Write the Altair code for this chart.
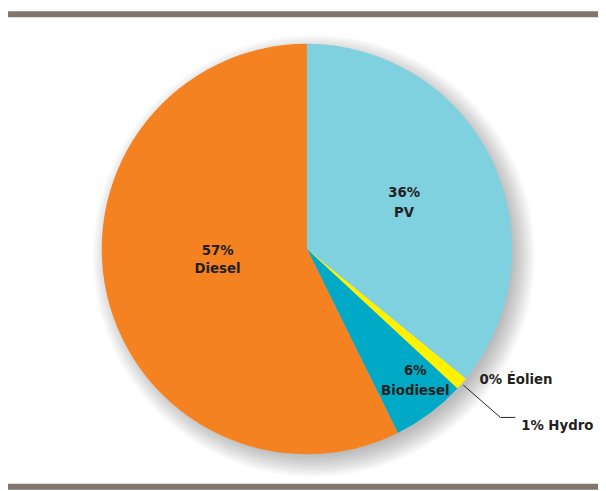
import math
import altair as alt
import pandas as pd

# ---- data ----
categories = ["PV", "Éolien", "Hydro", "Biodiesel", "Diesel"]
shares = [35.9, 0.0, 1.0, 5.8, 57.3]
pct_labels = ["36%", "0%", "1%", "6%", "57%"]
colors = ["#7fd1df", "#8dc63f", "#fff200", "#00aac6", "#f58220"]

df = pd.DataFrame({
    "cat": categories,
    "share": shares,
    "pct": pct_labels,
    "ord": list(range(len(categories))),
})

PADL = 8
W, H = 590, 482
CX, CY = W / 2, H / 2
R = 208
FONT = "'Liberation Sans Narrow', 'DejaVu Sans Condensed', sans-serif"
TXT = "#231f20"
BAR = "#7f756b"

base = alt.Chart(df).encode(
    theta=alt.Theta("share:Q", stack=True),
    order=alt.Order("ord:Q"),
)

# soft shadow under the pie (offset right/down)
one = pd.DataFrame({"k": [0]})
shadow_layers = []
for r in range(224, 200, -2):
    shadow_layers.append(
        alt.Chart(one).mark_point(shape="circle", filled=True, size=(2 * r) ** 2,
                                  color="#000000", opacity=0.025, strokeWidth=0)
        .encode(x=alt.value(CX + 7), y=alt.value(CY + 7))
    )

pie = base.mark_arc(outerRadius=R).encode(
    color=alt.Color("cat:N", scale=alt.Scale(domain=categories, range=colors),
                    legend=None)
)


def label(cat, expr, radius, dx=0, dy=0, align="center", lh=20):
    return base.transform_calculate(
        t=f"datum.cat == '{cat}' ? {expr} : ''"
    ).mark_text(
        radius=radius, dx=dx, dy=dy, align=align, baseline="middle",
        font=FONT, fontSize=15, fontWeight="bold", color=TXT,
        lineBreak="\n", lineHeight=lh,
    ).encode(text="t:N")


two_line = "datum.pct + '\\n' + datum.cat"
one_line = "datum.pct + ' ' + datum.cat"

lab_pv = label("PV", two_line, 109, dx=0, dy=-11)
lab_diesel = label("Diesel", two_line, 92, dx=-1, dy=-20, lh=18)
lab_bio = label("Biodiesel", two_line, 172, dx=7, dy=-15)
lab_eol = label("Éolien", one_line, 218, dx=6, dy=-6, align="left")
lab_hyd = label("Hydro", one_line, 260, dx=21, dy=8, align="left")

# leader line for Hydro
lead_base = alt.Chart(df).transform_joinaggregate(
    total="sum(share)"
).transform_window(
    cum="sum(share)", sort=[alt.SortField("ord")], frame=[None, 0]
).transform_filter(
    "datum.cat == 'Hydro'"
).transform_calculate(
    a="2*PI*(datum.cum - datum.share/2)/datum.total"
).transform_calculate(
    xa=f"{CX} + {R + 2}*sin(datum.a)",
    ya=f"{CY} - {R + 2}*cos(datum.a)",
    xb=f"{CX} + 260*sin(datum.a)",
    yb=f"{CY} - 260*cos(datum.a)",
).transform_calculate(
    xc="datum.xb + 15"
)

lead1 = lead_base.mark_rule(color=TXT, strokeWidth=1).encode(
    x=alt.X("xa:Q", scale=None, axis=None),
    y=alt.Y("ya:Q", scale=None, axis=None),
    x2="xb:Q",
    y2="yb:Q",
)
lead2 = lead_base.mark_rule(color=TXT, strokeWidth=1).encode(
    x=alt.X("xb:Q", scale=None, axis=None),
    y=alt.Y("yb:Q", scale=None, axis=None),
    x2="xc:Q",
)

# top and bottom bars
top_bar = alt.Chart(one).mark_rule(color=BAR, strokeWidth=6).encode(
    x=alt.value(-PADL), x2=alt.value(W), y=alt.value(3)
)
bottom_bar = alt.Chart(one).mark_rule(color=BAR, strokeWidth=6).encode(
    x=alt.value(-PADL), x2=alt.value(W), y=alt.value(482)
)

chart = alt.layer(
    *shadow_layers, pie, lab_pv, lab_diesel, lab_bio, lab_eol, lab_hyd,
    lead1, lead2, top_bar, bottom_bar
).properties(
    width=W, height=H, autosize=alt.AutoSizeParams(type="none"),
    padding={"left": PADL, "top": 0, "right": 0, "bottom": 1},
    background="#ffffff"
).configure_view(stroke=None)

chart.save("out.html", embed_options={"renderer": "svg", "actions": False})
